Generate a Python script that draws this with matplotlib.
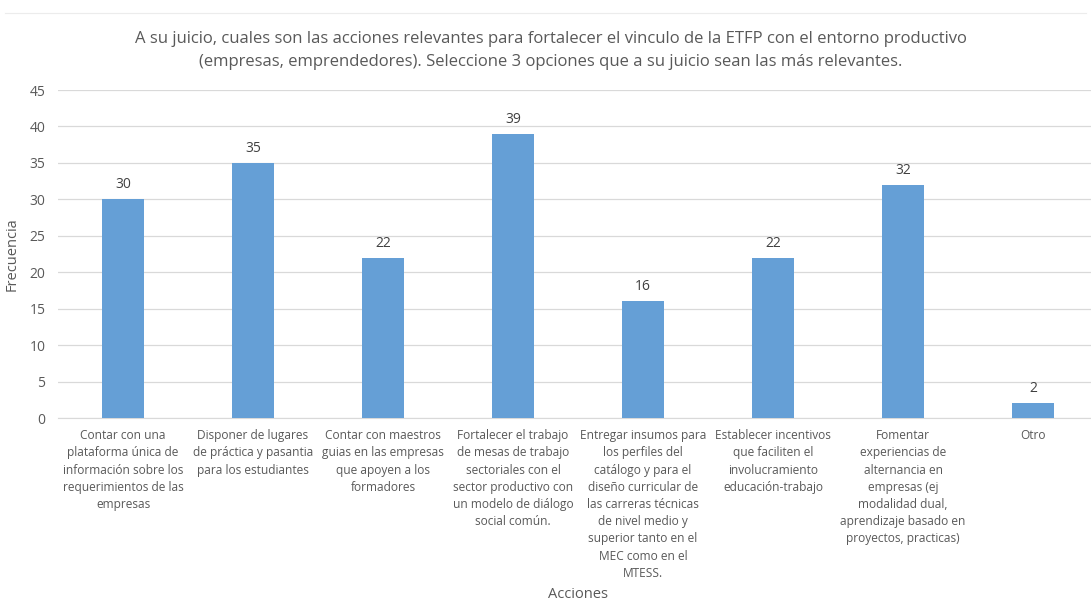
import matplotlib.pyplot as plt
from matplotlib.lines import Line2D

# ────────────────────────────────────────
#   Survey results: relevant actions
# ────────────────────────────────────────
TITLE = ("A su juicio, cuales son las acciones relevantes para fortalecer el vinculo de la ETFP con el entorno productivo\n"
         "(empresas, emprendedores). Seleccione 3 opciones que a su juicio sean las más relevantes.")

categorias = [
    "Contar con una\nplataforma única de\ninformación sobre los\nrequerimientos de las\nempresas",
    "Disponer de lugares\nde práctica y pasantia\npara los estudiantes",
    "Contar con maestros\nguias en las empresas\nque apoyen a los\nformadores",
    "Fortalecer el trabajo\nde mesas de trabajo\nsectoriales con el\nsector productivo con\nun modelo de diálogo\nsocial común.",
    "Entregar insumos para\nlos perfiles del\ncatálogo y para el\ndiseño curricular de\nlas carreras técnicas\nde nivel medio y\nsuperior tanto en el\nMEC como en el\nMTESS.",
    "Establecer incentivos\nque faciliten el\ninvolucramiento\neducación-trabajo",
    "Fomentar\nexperiencias de\nalternancia en\nempresas (ej\nmodalidad dual,\naprendizaje basado en\nproyectos, practicas)",
    "Otro",
]
frecuencia = [30, 35, 22, 39, 16, 22, 32, 2]
y_ticks = [0, 5, 10, 15, 20, 25, 30, 35, 40, 45]

BAR_COLOR = "#659fd6"
TEXT_COLOR = "#595959"
GRID_COLOR = "#d9d9d9"
FONT = ["Open Sans", "DejaVu Sans"]

plt.rcParams['font.family'] = FONT

fig = plt.figure(figsize=(10.91, 6.03), dpi=100, facecolor="white")
ax = fig.add_axes([58 / 1091, 1 - 418 / 603, (1098 - 58) / 1091, (418 - 90) / 603])

x = range(len(categorias))
bars = ax.bar(x, frecuencia, width=0.32, color=BAR_COLOR, zorder=3)

# value labels above each bar
for rect, val in zip(bars, frecuencia):
    ax.annotate(f"{val}", (rect.get_x() + rect.get_width() / 2, val),
                xytext=(0, 5), textcoords="offset points",
                ha='center', va='bottom', fontsize=10, color="#404040")

ax.set_xlim(-0.5, len(categorias) - 0.5)
ax.set_ylim(0, 45)
ax.set_yticks(y_ticks)
ax.yaxis.grid(True, color=GRID_COLOR, linewidth=0.9, zorder=0)
ax.set_axisbelow(True)

for side in ("top", "right", "left"):
    ax.spines[side].set_visible(False)
ax.spines["bottom"].set_color(GRID_COLOR)

ax.tick_params(axis='y', length=0, pad=9, labelsize=10, labelcolor=TEXT_COLOR)
ax.tick_params(axis='x', length=0, pad=8, labelsize=8.6, labelcolor=TEXT_COLOR)
ax.set_xticks(list(x))
ax.set_xticklabels(categorias, linespacing=1.42)

ax.set_ylabel("Frecuencia", fontsize=10.5, color=TEXT_COLOR, labelpad=7)
fig.text(578 / 1091, 1 - 594 / 603, "Acciones", ha='center', va='center',
         fontsize=10.5, color=TEXT_COLOR)

fig.text(551 / 1091, 1 - 31 / 603, TITLE, ha='center', va='top',
         fontsize=12, color=TEXT_COLOR, linespacing=1.6)

# thin frame line along the top of the chart area
fig.add_artist(Line2D([0.005, 0.995], [1 - 13 / 603, 1 - 13 / 603],
                      color="#ececec", linewidth=0.8))

plt.savefig("out.png", dpi=100, facecolor=fig.get_facecolor())
